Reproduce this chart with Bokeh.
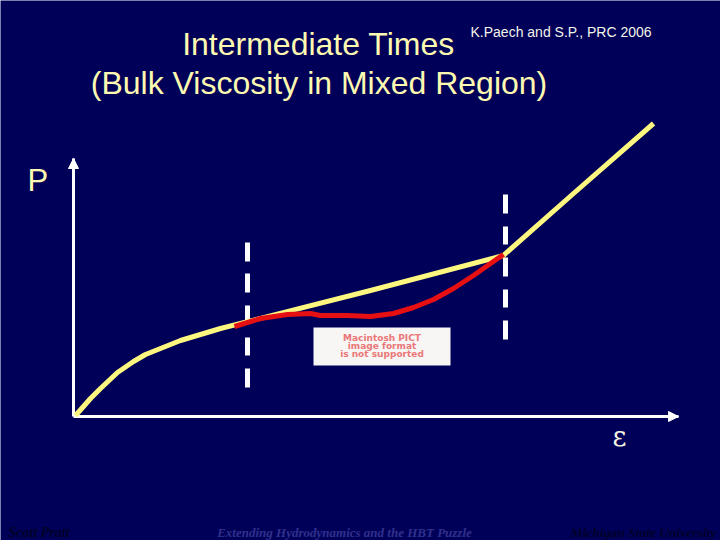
from bokeh.plotting import figure
from bokeh.models import Range1d, Arrow, NormalHead
from bokeh.core.properties import value
from bokeh.embed import file_html
from bokeh.resources import INLINE

# Values in chart units: energy density (eps) and pressure (P), origin at the axes' corner
eos_eps = [2, 17, 27, 44, 60, 72, 87, 107, 127, 147, 297, 430, 432, 500, 580]
eos_p = [1, 18, 28, 44, 55, 62, 68, 76, 82, 88, 126, 161, 163, 223, 293]
visc_eps = [161, 187, 214, 237, 247, 274, 297, 320, 340, 360, 380, 400, 417, 430]
visc_p = [90, 98, 102, 103, 101, 101, 100, 103, 109, 117, 128, 141, 153, 162]
left_dash_eps = 174
left_dash_top = [174, 143, 111, 79, 48]
left_dash_bottom = [155, 124, 93, 61, 29]
right_dash_eps = 432
right_dash_top = [222, 190, 159, 127, 96]
right_dash_bottom = [203, 172, 140, 109, 77]
axis_x_eps = [0, 605]
axis_y_p = [0, 258]

title_lines = ["Intermediate Times", "(Bulk Viscosity in Mixed Region)"]
citation = "K.Paech and S.P., PRC 2006"
y_label = "P"
x_label = "\u03b5"
pict_lines = ["Macintosh PICT", "image format", "is not supported"]
footer = ["Scott Pratt", "Extending Hydrodynamics and the HBT Puzzle", "Michigan State University"]

BG = "#000059"
YEL = "#fdf780"
TXT = "#fdf9b0"

OX, OY = 73, 416  # reference position of the origin (picture pixels)
p = figure(width=720, height=540, output_backend="svg", toolbar_location=None,
           x_range=Range1d(0 - OX, 720 - OX), y_range=Range1d(OY - 540, OY - 0),
           min_border=0, background_fill_color=BG, border_fill_color=BG, outline_line_color=None)
p.axis.visible = False
p.grid.visible = False


def tx(x, y, s, size, color=TXT, font="Liberation Sans", style="normal", align="left"):
    p.text([x - OX], [OY - y], text=[s], text_font=value(font), text_font_size=f"{size}px",
           text_font_style=style, text_color=color, text_align=align, text_baseline="middle")


# axes
p.line(axis_x_eps, [0, 0], line_color="white", line_width=3)
p.line([0, 0], axis_y_p, line_color="white", line_width=3)
p.add_layout(Arrow(end=NormalHead(size=10, fill_color="white", line_color="white"),
                   x_start=axis_x_eps[1] - 5, y_start=0, x_end=axis_x_eps[1], y_end=0,
                   line_color="white", line_width=2))
p.add_layout(Arrow(end=NormalHead(size=10, fill_color="white", line_color="white"),
                   x_start=0, y_start=axis_y_p[1] - 5, x_end=0, y_end=axis_y_p[1],
                   line_color="white", line_width=2))

# dashed phase boundaries
p.segment([left_dash_eps] * 5, left_dash_top, [left_dash_eps] * 5, left_dash_bottom,
          line_color="white", line_width=5)
p.segment([right_dash_eps] * 5, right_dash_top, [right_dash_eps] * 5, right_dash_bottom,
          line_color="white", line_width=5)

# curves
p.line(eos_eps, eos_p, line_color=YEL, line_width=5, line_join="round")
p.line(visc_eps, visc_p, line_color="#e60f12", line_width=5, line_join="round")

# missing picture placeholder
p.quad(left=[313 - OX], right=[450 - OX], top=[OY - 327], bottom=[OY - 365],
       fill_color="#f8f5f5", line_color=None)
for s, y in zip(pict_lines, [337, 345, 353]):
    tx(381.5, y, s, 9, color="#ea7878", font="DejaVu Sans", style="bold", align="center")

# titles and labels
tx(318, 43.5, title_lines[0], 32, align="center")
tx(318.5, 82.5, title_lines[1], 32, align="center")
tx(470, 31, citation, 14, color="#f4f4e8")
tx(27, 180, y_label, 31)
tx(619, 436, x_label, 27, color="#f4f4e0", font="DejaVu Serif", align="center")

# footer
tx(8, 532, footer[0], 14, color="#000028", font="Liberation Serif", style="bold italic")
tx(344, 532, footer[1], 13, color="#30308c", font="Liberation Serif", style="bold italic", align="center")
tx(643, 532, footer[2], 13.5, color="#000028", font="Liberation Serif", style="bold italic", align="center")

open("out.html", "w").write(file_html(p, INLINE))
